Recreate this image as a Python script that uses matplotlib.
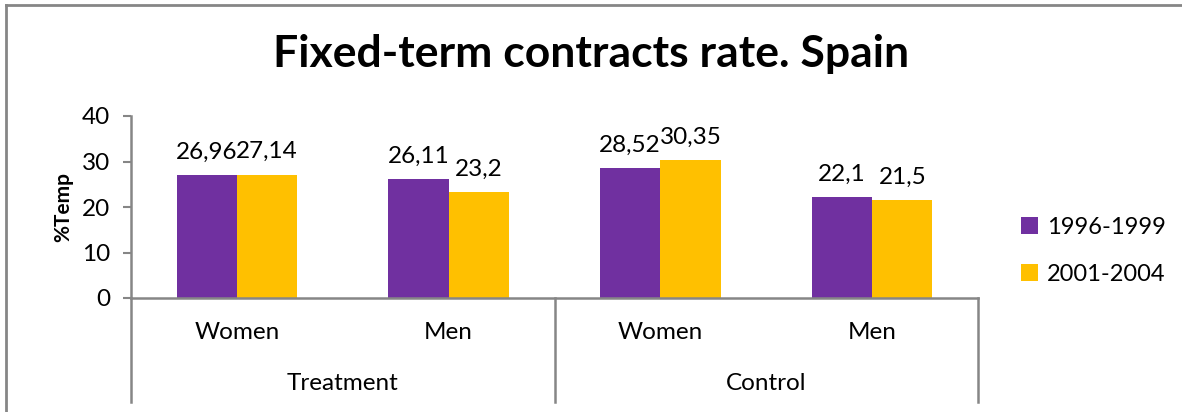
import matplotlib
matplotlib.use("Agg")
from matplotlib import pyplot as plt
from matplotlib.lines import Line2D
from matplotlib.patches import Patch

plt.rcParams['font.family'] = ['Lato', 'DejaVu Sans']

groups = ['Treatment', 'Control']
categories = ['Women', 'Men', 'Women', 'Men']
series_names = ['1996-1999', '2001-2004']
vals_9699 = [26.96, 26.11, 28.52, 22.1]
vals_0104 = [27.14, 23.2, 30.35, 21.5]
colors = ['#7030A0', '#FFC000']

W, H = 1182, 412
fig = plt.figure(figsize=(W / 100, H / 100), dpi=100)
# plot area in pixels: x 131..978, y 116..298
ax = fig.add_axes([131 / W, (H - 298) / H, 847 / W, 182 / H])

bw = 0.285
x = list(range(len(categories)))
for i, (vals, col) in enumerate(zip([vals_9699, vals_0104], colors)):
    offs = (i - 0.5) * bw
    xs = [xi + offs for xi in x]
    ax.bar(xs, vals, width=bw, color=col, zorder=2)
    for xi, v in zip(xs, vals):
        ax.annotate(str(v).replace('.', ','), (xi, v), xytext=(0, 9),
                    textcoords='offset points', ha='center', va='bottom',
                    fontsize=17.5)

ax.set_xlim(-0.5, len(categories) - 0.5)
ax.set_ylim(0, 40)
ax.set_yticks([0, 10, 20, 30, 40])
ax.set_xticks([])
ax.tick_params(axis='y', length=6, width=1.5, color='#868686', labelsize=17.5, pad=9)
for s in ['top', 'right']:
    ax.spines[s].set_visible(False)
for s in ['left', 'bottom']:
    ax.spines[s].set_color('#868686')
    ax.spines[s].set_linewidth(1.8)
ax.set_ylabel('%Temp', fontsize=15, fontweight='bold', labelpad=6)

# category labels and group separators below the axis
sep_y = (298 - 402) / 182
for xi, c in zip(x, categories):
    ax.text(xi, -0.19, c, transform=ax.get_xaxis_transform(), ha='center',
            va='center', fontsize=17.5)
for gi, g in enumerate(groups):
    ax.text(gi * 2 + 0.5, -0.47, g, transform=ax.get_xaxis_transform(),
            ha='center', va='center', fontsize=17.5)
for xb in [-0.5, 1.5, 3.5]:
    ax.add_line(Line2D([xb, xb], [0, sep_y], transform=ax.get_xaxis_transform(),
                       color='#868686', lw=1.8, clip_on=False))

fig.suptitle('Fixed-term contracts rate. Spain', fontsize=32, fontweight='bold',
             y=(H - 54) / H, va='center')

handles = [Patch(facecolor=c, label=n) for c, n in zip(colors, series_names)]
fig.legend(handles=handles, loc='center left', bbox_to_anchor=(1000 / W, (H - 251) / H),
           frameon=False, fontsize=17, handlelength=0.7, handleheight=0.7,
           handletextpad=0.4, labelspacing=1.1)

# chart border (left and top only are visible in the crop)
fig.add_artist(Line2D([6 / W, 6 / W], [0, (H - 5) / H], color='#868686', lw=2))
fig.add_artist(Line2D([6 / W, 1], [(H - 5) / H, (H - 5) / H], color='#868686', lw=2))

fig.savefig('out.png', dpi=100)
